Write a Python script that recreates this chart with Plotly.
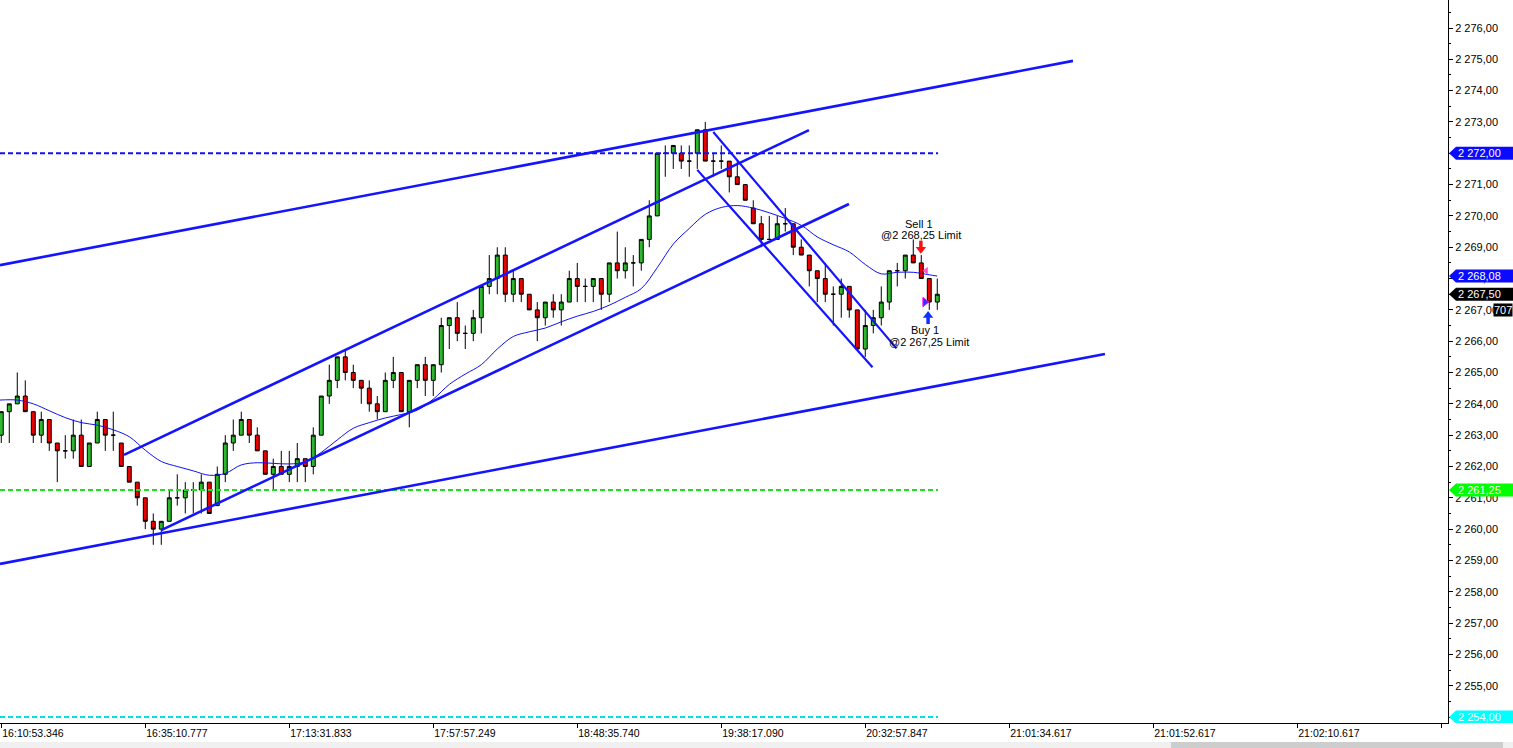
import plotly.graph_objects as go

# ---------------- data ----------------
bar_opens = [2263.0, 2263.75, 2264.0, 2264.25, 2263.75, 2263.0, 2263.5, 2262.75, 2262.5, 2262.5,
             2263.0, 2262.0, 2262.75, 2263.5, 2263.0, 2262.75, 2262.0, 2261.5, 2261.0, 2260.25,
             2260.0, 2260.25, 2261.0, 2261.0, 2261.25, 2261.25, 2261.5, 2260.75, 2261.75, 2262.75,
             2263.0, 2263.5, 2263.0, 2262.5, 2261.75, 2262.0, 2261.75, 2262.0, 2262.25, 2262.0,
             2263.0, 2264.25, 2264.75, 2265.5, 2265.0, 2264.75, 2264.5, 2264.0, 2263.75, 2264.75,
             2265.0, 2263.75, 2264.75, 2265.25, 2264.75, 2265.25, 2266.5, 2266.75, 2266.25, 2266.25,
             2266.75, 2267.75, 2268.0, 2268.75, 2267.5, 2268.0, 2267.5, 2267.0, 2266.75, 2267.25,
             2267.0, 2267.25, 2268.0, 2267.75, 2267.75, 2268.0, 2267.5, 2268.5, 2268.25, 2268.5,
             2268.5, 2269.25, 2270.0, 2272.0, 2272.0, 2272.0, 2271.75, 2272.0, 2272.75, 2271.75,
             2271.75, 2271.75, 2271.25, 2271.0, 2270.25, 2269.75, 2269.25, 2269.25, 2269.75, 2269.75,
             2269.0, 2268.75, 2268.25, 2268.0, 2267.5, 2267.5, 2267.75, 2267.0, 2265.75, 2266.5,
             2266.75, 2267.25, 2268.25, 2268.25, 2268.75, 2268.5, 2268.0, 2267.25]
bar_highs = [2263.75, 2264.0, 2265.0, 2264.75, 2263.75, 2263.75, 2263.5, 2262.75, 2263.0, 2263.5,
             2263.5, 2262.75, 2263.75, 2263.5, 2263.75, 2262.75, 2262.0, 2261.5, 2261.0, 2260.5,
             2260.25, 2261.25, 2261.75, 2261.5, 2261.5, 2261.75, 2261.5, 2262.0, 2263.0, 2263.5,
             2263.75, 2263.5, 2263.25, 2262.5, 2262.25, 2262.5, 2262.5, 2262.75, 2262.25, 2263.25,
             2264.25, 2265.25, 2265.5, 2265.75, 2265.25, 2264.75, 2264.75, 2264.25, 2265.0, 2265.5,
             2265.0, 2264.75, 2265.25, 2265.5, 2265.25, 2266.75, 2266.75, 2267.25, 2266.5, 2267.0,
             2267.75, 2268.75, 2269.0, 2269.0, 2268.25, 2268.0, 2267.5, 2267.25, 2267.25, 2267.5,
             2267.5, 2268.25, 2268.5, 2268.0, 2268.0, 2268.0, 2268.5, 2269.5, 2269.0, 2268.75,
             2269.25, 2270.5, 2272.0, 2272.25, 2272.25, 2272.25, 2272.25, 2272.75, 2273.0, 2272.0,
             2272.25, 2271.75, 2271.75, 2271.0, 2270.5, 2270.0, 2270.0, 2270.0, 2270.25, 2269.75,
             2269.25, 2268.75, 2268.25, 2268.5, 2267.75, 2268.0, 2267.75, 2267.0, 2267.0, 2267.0,
             2267.75, 2268.25, 2268.5, 2268.75, 2269.25, 2268.75, 2268.0, 2268.0]
bar_lows = [2262.75, 2262.75, 2264.0, 2263.75, 2262.75, 2262.75, 2262.5, 2261.5, 2262.25, 2262.25,
            2262.0, 2262.0, 2262.75, 2262.5, 2262.5, 2262.0, 2261.5, 2260.75, 2260.0, 2259.5,
            2259.5, 2260.25, 2260.75, 2260.5, 2260.5, 2260.5, 2260.5, 2260.75, 2261.5, 2262.5,
            2263.0, 2262.75, 2262.5, 2261.75, 2261.25, 2261.75, 2261.5, 2261.5, 2261.5, 2261.75,
            2263.0, 2264.0, 2264.5, 2264.75, 2264.5, 2264.0, 2263.75, 2263.5, 2263.75, 2264.5,
            2263.75, 2263.25, 2264.5, 2264.25, 2264.25, 2265.0, 2265.75, 2266.0, 2265.75, 2266.0,
            2266.25, 2267.5, 2267.5, 2267.25, 2267.25, 2267.25, 2267.0, 2266.0, 2266.5, 2266.75,
            2266.5, 2267.25, 2267.25, 2267.25, 2267.25, 2267.0, 2267.25, 2268.0, 2268.0, 2267.75,
            2268.25, 2269.0, 2270.0, 2271.25, 2271.5, 2271.5, 2271.25, 2271.5, 2271.75, 2271.25,
            2271.5, 2270.75, 2271.0, 2270.5, 2269.75, 2269.0, 2269.25, 2269.25, 2269.5, 2268.75,
            2268.75, 2267.75, 2267.25, 2267.25, 2266.5, 2266.75, 2266.75, 2265.75, 2265.5, 2266.25,
            2266.5, 2267.0, 2267.75, 2268.0, 2268.5, 2268.0, 2267.0, 2267.0]
bar_closes = [2263.75, 2264.0, 2264.25, 2263.75, 2263.0, 2263.5, 2262.75, 2262.5, 2262.5, 2263.0,
              2262.0, 2262.75, 2263.5, 2263.0, 2263.0, 2262.0, 2261.5, 2261.0, 2260.25, 2260.0,
              2260.25, 2261.0, 2261.0, 2261.25, 2261.25, 2261.5, 2260.5, 2261.75, 2262.75, 2263.0,
              2263.5, 2263.0, 2262.5, 2261.75, 2262.0, 2261.75, 2262.0, 2262.25, 2262.0, 2263.0,
              2264.25, 2264.75, 2265.5, 2265.0, 2264.75, 2264.5, 2264.0, 2263.75, 2264.75, 2265.0,
              2263.75, 2264.75, 2265.25, 2264.75, 2265.25, 2266.5, 2266.75, 2266.25, 2266.25, 2266.75,
              2267.75, 2268.0, 2268.75, 2267.5, 2268.0, 2267.5, 2267.0, 2266.75, 2267.25, 2267.0,
              2267.25, 2268.0, 2267.75, 2267.75, 2268.0, 2267.5, 2268.5, 2268.25, 2268.5, 2268.5,
              2269.25, 2270.0, 2272.0, 2272.0, 2272.25, 2271.75, 2271.75, 2272.75, 2271.75, 2271.75,
              2271.75, 2271.25, 2271.0, 2270.5, 2269.75, 2269.25, 2269.25, 2269.75, 2269.75, 2269.0,
              2268.75, 2268.25, 2268.0, 2267.5, 2267.5, 2267.75, 2267.0, 2265.75, 2266.5, 2266.75,
              2267.25, 2268.25, 2268.25, 2268.75, 2268.5, 2268.0, 2267.25, 2267.5]
bar_index = list(range(len(bar_closes)))

# moving average (bar position, price)
ma_bars = [-0.2, 2, 4, 6, 8, 10, 12, 14, 16, 18, 20, 22, 24, 26, 28, 30, 32, 34, 36, 38,
           40, 42, 44, 46, 48, 50, 52, 54, 56, 58, 60, 62, 64, 66, 68, 70, 72, 74, 76, 78,
           80, 82, 84, 86, 88, 90, 92, 94, 96, 98, 100, 102, 104, 106, 108, 110, 112, 114, 116, 117]
ma_values = [2264.12, 2264.12, 2264.0, 2263.78, 2263.56, 2263.40, 2263.32, 2263.17, 2262.95, 2262.52,
             2262.16, 2262.0, 2261.86, 2261.72, 2261.78, 2262.05, 2262.12, 2262.10, 2262.08, 2262.15,
             2262.45, 2262.85, 2263.22, 2263.40, 2263.55, 2263.66, 2263.80, 2264.15, 2264.62, 2264.95,
             2265.25, 2265.75, 2266.15, 2266.30, 2266.42, 2266.62, 2266.80, 2266.95, 2267.15, 2267.40,
             2267.68, 2268.35, 2269.10, 2269.60, 2270.05, 2270.27, 2270.33, 2270.25, 2270.10, 2269.92,
             2269.70, 2269.33, 2269.08, 2268.85, 2268.45, 2268.15, 2268.20, 2268.20, 2268.12, 2268.08]

# drawn trend lines
trend_x0 = [-0.16, -0.16, 15.34, 20.0, 89.0, 87.0]
trend_y0 = [2268.43, 2258.89, 2262.37, 2259.97, 2272.68, 2271.47]
trend_x1 = [133.96, 137.96, 100.96, 105.96, 111.9, 108.9]
trend_y1 = [2274.95, 2265.59, 2272.74, 2270.38, 2265.77, 2265.17]
trend_w = [2.6, 2.6, 2.6, 2.6, 2.2, 2.2]

# horizontal levels
level_values = [2272.00, 2261.25, 2254.00]
level_colors = ["#1010F0", "#22DD22", "#00E0E8"]
level_end_bar = 117.1

# axis time labels
time_tick_bars = [0, 18, 36, 54, 72, 90, 108, 126, 144, 162, 180]
time_tick_text = ["16:10:53.346", "16:35:10.777", "17:13:31.833", "17:57:57.249", "18:48:35.740",
                  "19:38:17.090", "20:32:57.847", "21:01:34.617", "21:01:52.617", "21:02:10.617", ""]

# price tags on the right axis
tag_values = [2272.00, 2268.08, 2267.50, 2261.25, 2254.00]
tag_colors = ["#0A0AFF", "#0A0AFF", "#000000", "#00FF00", "#00FFFF"]

# orders
trade_names = ["Sell 1", "Buy 1"]
trade_bars = [115, 116]
trade_prices = [2268.25, 2267.25]
trade_colors = ["#FF1010", "#1030FF"]
tick_counter = "707"

# ---------------- figure ----------------
def fmt(v):
    s = f"{v:,.2f}"
    return s.replace(",", " ").replace(".", ",")

W, H = 1513, 748
ML, MR, MT, MB = 0, 65, 0, 25
PW = W - ML - MR
PH = H - MT - MB
YMIN, YMAX = 2253.81, 2276.894
PX_PER_PT = PH / (YMAX - YMIN)

def xp(px):
    return px / PW

def dp(px):
    """pixel offset -> price offset"""
    return px / PX_PER_PT

fig = go.Figure()

# levels
for v, c in zip(level_values, level_colors):
    fig.add_trace(go.Scatter(x=[-0.16, level_end_bar], y=[v, v], mode="lines",
                             line=dict(color=c, width=2, dash="5px,3px"), hoverinfo="skip"))

# moving average
fig.add_trace(go.Scatter(x=ma_bars, y=ma_values, mode="lines", line_shape="spline",
                         line=dict(color="#1010F0", width=1), hoverinfo="skip"))

# candles
fig.add_trace(go.Candlestick(
    x=bar_index, open=bar_opens, high=bar_highs, low=bar_lows, close=bar_closes,
    increasing=dict(fillcolor="#2DB82D", line=dict(color="#000000", width=1)),
    decreasing=dict(fillcolor="#EE0000", line=dict(color="#000000", width=1)),
    whiskerwidth=0, hoverinfo="skip"))

# trend lines
for x0, y0, x1, y1, w in zip(trend_x0, trend_y0, trend_x1, trend_y1, trend_w):
    fig.add_trace(go.Scatter(x=[x0, x1], y=[y0, y1], mode="lines",
                             line=dict(color="#1414FF", width=w), hoverinfo="skip"))

# execution markers
fig.add_trace(go.Scatter(x=[trade_bars[0] + 0.6], y=[trade_prices[0]], mode="markers",
                         marker=dict(symbol="triangle-left", size=7, color="#FF55CC"), hoverinfo="skip"))
fig.add_trace(go.Scatter(x=[trade_bars[1] - 0.55], y=[trade_prices[1]], mode="markers",
                         marker=dict(symbol="triangle-right", size=8, color="#3030FF",
                                     line=dict(color="#FF00FF", width=1)), hoverinfo="skip"))

# order arrows (stem + head)
sell_b, buy_b = trade_bars
sell_p, buy_p = trade_prices
sell_x = sell_b - 0.05
buy_x = buy_b - 0.15
fig.add_trace(go.Scatter(x=[sell_x, sell_x], y=[sell_p + dp(30), sell_p + dp(23)], mode="lines",
                         line=dict(color=trade_colors[0], width=3.5), hoverinfo="skip"))
fig.add_trace(go.Scatter(x=[sell_x], y=[sell_p + dp(21.5)], mode="markers",
                         marker=dict(symbol="triangle-down", size=9, color=trade_colors[0]),
                         hoverinfo="skip"))
fig.add_trace(go.Scatter(x=[buy_x, buy_x], y=[buy_p - dp(22), buy_p - dp(15)], mode="lines",
                         line=dict(color=trade_colors[1], width=3.5), hoverinfo="skip"))
fig.add_trace(go.Scatter(x=[buy_x], y=[buy_p - dp(13.5)], mode="markers",
                         marker=dict(symbol="triangle-up", size=9, color=trade_colors[1]),
                         hoverinfo="skip"))

shapes = []
annotations = []

# right-axis tags
hh = dp(6.5)
for v, c in zip(tag_values, tag_colors):
    path = (f"M {xp(1449)},{v} L {xp(1456)},{v + hh} L {xp(1513)},{v + hh} "
            f"L {xp(1513)},{v - hh} L {xp(1456)},{v - hh} Z")
    shapes.append(dict(type="path", xref="paper", yref="y", path=path,
                       fillcolor=c, line=dict(width=0), layer="above"))
    annotations.append(dict(xref="paper", yref="y", x=xp(1456), y=v, xanchor="left",
                            yanchor="middle", text=fmt(v), showarrow=False,
                            font=dict(color="white", size=11, family="Liberation Sans")))

annotations.append(dict(xref="paper", yref="y", x=xp(1513), y=2267.0, xanchor="right",
                        yanchor="middle", text=tick_counter, showarrow=False, bgcolor="#000000",
                        borderpad=0, font=dict(color="white", size=11, family="Liberation Sans")))

# trade texts
annotations += [
    dict(x=sell_b, y=sell_p, xshift=-2, yshift=47, text=trade_names[0], showarrow=False,
         font=dict(size=11, color="black")),
    dict(x=sell_b, y=sell_p, xshift=0, yshift=36, text="@" + fmt(sell_p) + " Limit",
         showarrow=False, font=dict(size=11, color="black")),
    dict(x=buy_b, y=buy_p, xshift=-4, yshift=-28, text=trade_names[1], showarrow=False,
         font=dict(size=11, color="black")),
    dict(x=buy_b, y=buy_p, xshift=0, yshift=-40, text="@" + fmt(buy_p) + " Limit",
         showarrow=False, font=dict(size=11, color="black")),
]

# bottom scrollbar
sb_y0 = -(742 - PH) / PH
sb_y1 = -(748 - PH) / PH
shapes.append(dict(type="rect", xref="paper", yref="paper", x0=0, x1=W / PW, y0=sb_y1, y1=sb_y0,
                   fillcolor="#F0F0F0", line=dict(width=0), layer="above"))
shapes.append(dict(type="rect", xref="paper", yref="paper", x0=xp(1171), x1=xp(1503), y0=sb_y1,
                   y1=sb_y0, fillcolor="#CDCDCD", line=dict(width=0), layer="above"))

fig.update_layout(
    width=W, height=H,
    margin=dict(l=ML, r=MR, t=MT, b=MB, pad=0),
    paper_bgcolor="white", plot_bgcolor="white",
    showlegend=False, hovermode=False,
    separators=", ",
    font=dict(family="Liberation Sans", size=11, color="black"),
    shapes=shapes, annotations=annotations,
    xaxis=dict(range=[-0.16, 180.84], tickmode="array", tickvals=time_tick_bars,
               ticktext=time_tick_text, ticks="outside", ticklen=4, tickcolor="black",
               showline=True, linecolor="black", linewidth=1, showgrid=False, zeroline=False,
               rangeslider=dict(visible=False), ticklabelposition="outside right",
               tickfont=dict(size=10.5, family="Liberation Sans"), fixedrange=True),
    yaxis=dict(side="right", range=[YMIN, YMAX], tick0=2254, dtick=1, tickformat=",.2f",
               ticks="outside", ticklen=4, tickcolor="black",
               minor=dict(dtick=0.5, ticks="outside", ticklen=2, tickcolor="black", showgrid=False),
               showline=True, linecolor="black", linewidth=1, showgrid=False, zeroline=False,
               tickfont=dict(size=11, family="Liberation Sans"), fixedrange=True),
)

fig.write_html("out.html", config={"displayModeBar": False},
               post_script="document.body.style.margin='0';document.body.style.overflow='hidden';")
